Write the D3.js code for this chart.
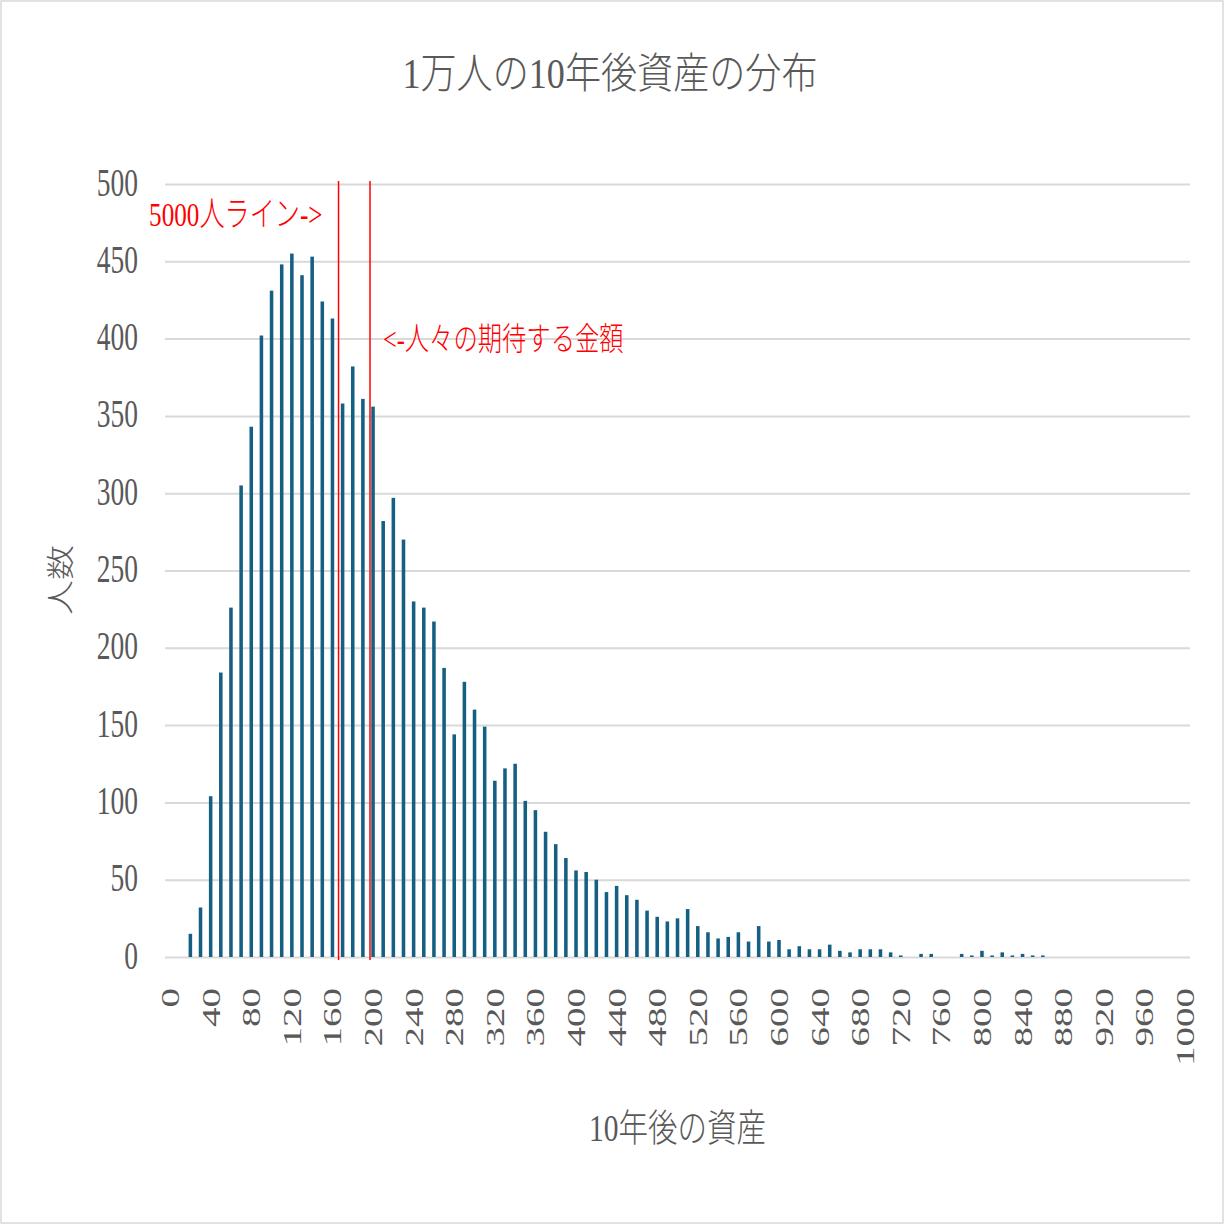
<!DOCTYPE html>
<html lang="ja">
<head>
<meta charset="UTF-8">
<title>1万人の10年後資産の分布</title>
<script src="https://d3js.org/d3.v7.min.js"></script>
<style>
  body { margin: 0; background: #fff; }
  svg text { font-family: "Liberation Serif", "Noto Sans CJK JP", serif; }
  .grid line { stroke: #d9d9d9; stroke-width: 2px; }
  .grid path { display: none; }
  .axis path, .axis line { display: none; }
  .axis text { fill: #595959; }
</style>
</head>
<body>
<svg width="1224" height="1224"></svg>
<script>
// bins of 10 (0..1000), counts
const categories = d3.range(0, 1001, 10);
const counts = [
  0, 0, 15, 32, 104, 184, 226, 305, 343, 402,
  431, 448, 455, 441, 453, 424, 413, 358, 382, 361,
  356, 282, 297, 270, 230, 226, 217, 187, 144, 178,
  160, 149, 114, 122, 125, 101, 95, 81, 73, 64,
  56, 55, 50, 42, 46, 40, 37, 30, 26, 23,
  25, 31, 20, 16, 12, 13, 16, 10, 20, 10,
  11, 5, 7, 5, 5, 8, 4, 3, 5, 5,
  5, 3, 1, 0, 2, 2, 0, 0, 2, 1,
  4, 1, 3, 1, 2, 1, 1, 0, 0, 0,
  0, 0, 0, 0, 0, 0, 0, 0, 0, 0,
  0
];
const xTickLabels = d3.range(0, 1001, 40);
const yTicks = d3.range(0, 501, 50);

// red marker lines (amount on the x axis) and their notes
const markerValues = [166, 197];
const markerNotes = ["5000人ライン->", "<-人々の期待する金額"];

const titleText = "1万人の10年後資産の分布";
const xTitle = "10年後の資産";
const yTitle = "人数";

const svg = d3.select("svg");
const W = 1224, H = 1224;
const m = { left: 165, right: 1190, top: 184, bottom: 957 };

// outer chart border
svg.append("rect")
  .attr("x", 1).attr("y", 1).attr("width", W - 2).attr("height", H - 2)
  .attr("fill", "#fff").attr("stroke", "#d9d9d9").attr("stroke-width", 1.5);

const x = d3.scaleBand()
  .domain(categories)
  .range([m.left, m.right])
  .paddingInner(0.65)
  .paddingOuter(0.325);

// continuous amount -> pixel, lined up with the band centres
const xAmt = d3.scaleLinear()
  .domain([0, 1000])
  .range([x(0) + x.bandwidth() / 2, x(1000) + x.bandwidth() / 2]);

const y = d3.scaleLinear().domain([0, 500]).range([m.bottom, m.top]);

// gridlines
svg.append("g")
  .attr("class", "grid")
  .attr("transform", `translate(${m.left},0)`)
  .call(d3.axisLeft(y).tickValues(yTicks).tickSize(-(m.right - m.left)).tickFormat(""));

// y axis labels
const yAxis = svg.append("g")
  .attr("class", "axis")
  .attr("transform", `translate(${m.left},0)`)
  .call(d3.axisLeft(y).tickValues(yTicks).tickSize(0));
yAxis.selectAll("text")
  .attr("x", null).attr("dy", null)
  .attr("text-anchor", "end")
  .style("font-size", "41px")
  .attr("transform", "translate(-27,11) scale(0.67,1)");

// x axis labels
const xAxis = svg.append("g")
  .attr("class", "axis")
  .attr("transform", `translate(0,${m.bottom})`)
  .call(d3.axisBottom(x).tickValues(xTickLabels).tickSize(0));
xAxis.selectAll("text")
  .attr("y", null).attr("dy", null)
  .attr("text-anchor", "end")
  .style("font-size", "26px")
  .attr("transform", "translate(9,31) rotate(-90) scale(1.5,1)");

// bars
svg.append("g")
  .selectAll("rect")
  .data(categories.map((c, i) => ({ c, v: counts[i] })).filter(d => d.v > 0))
  .join("rect")
  .attr("x", d => x(d.c))
  .attr("width", x.bandwidth())
  .attr("y", d => y(d.v))
  .attr("height", d => m.bottom - y(d.v))
  .attr("fill", "#156082");

// red marker lines
svg.append("g")
  .selectAll("line")
  .data(markerValues)
  .join("line")
  .attr("x1", d => xAmt(d)).attr("x2", d => xAmt(d))
  .attr("y1", m.top - 3).attr("y2", m.bottom + 3)
  .attr("stroke", "#ff0000")
  .attr("stroke-width", 1.5);

// marker notes
svg.append("g")
  .attr("transform", `translate(${xAmt(markerValues[0]) - 16},226) scale(0.74,1)`)
  .append("text")
  .attr("text-anchor", "end")
  .attr("fill", "#ff0000")
  .style("font-size", "34px")
  .style("font-weight", 300)
  .text(markerNotes[0]);

svg.append("g")
  .attr("transform", `translate(${xAmt(markerValues[1]) + 13},350) scale(0.76,1)`)
  .append("text")
  .attr("text-anchor", "start")
  .attr("fill", "#ff0000")
  .style("font-size", "32px")
  .style("font-weight", 300)
  .text(markerNotes[1]);

// title
svg.append("g")
  .attr("transform", "translate(610,88) scale(0.95,1.1)")
  .append("text")
  .attr("text-anchor", "middle")
  .attr("fill", "#595959")
  .style("font-size", "38px")
  .style("font-weight", 300)
  .text(titleText);

// x axis title
svg.append("g")
  .attr("transform", `translate(${(m.left + m.right) / 2},1141) scale(0.82,1.05)`)
  .append("text")
  .attr("text-anchor", "middle")
  .attr("fill", "#595959")
  .style("font-size", "36px")
  .style("font-weight", 300)
  .text(xTitle);

// y axis title
svg.append("g")
  .attr("transform", "translate(71,580) rotate(-90) scale(1.25,1)")
  .append("text")
  .attr("text-anchor", "middle")
  .attr("fill", "#595959")
  .style("font-size", "28px")
  .style("font-weight", 300)
  .text(yTitle);
</script>
</body>
</html>
